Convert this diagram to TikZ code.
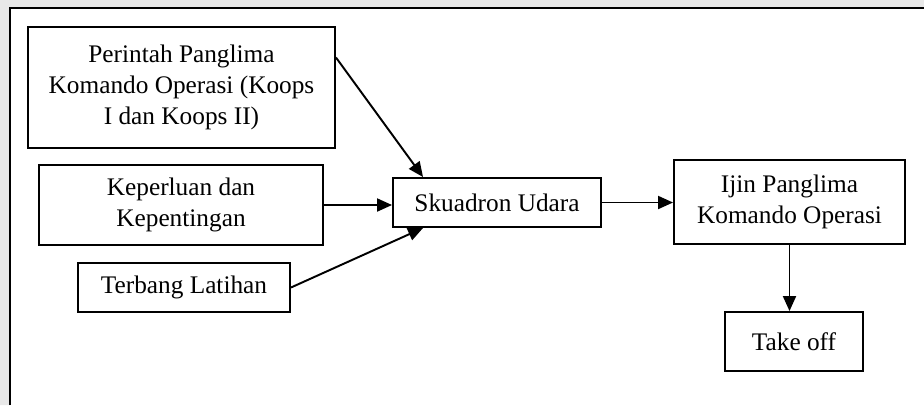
\documentclass[tikz,border=0pt]{standalone}
\usepackage{fontspec}
\setmainfont{Liberation Serif}
\usetikzlibrary{arrows.meta}
\tikzset{
  blok/.style={draw,line width=1.1pt,align=center,inner sep=2pt,
    font=\fontsize{14.4}{17.6}\selectfont},
  panah/.style={-{Triangle[length=0.3cm,width=0.26cm]},line width=1.1pt}
}
\begin{document}
\begin{tikzpicture}
\useasboundingbox (0,0) rectangle (18.48,-8.1);
\fill[gray!18] (0,0) -- (18.48,0) -- (18.48,-0.16) -- (0.2,-0.16) -- (0.2,-8.1) -- (0,-8.1) -- cycle;
\draw[line width=1.1pt] (0.2,-8.1) -- (0.2,-0.16) -- (18.48,-0.16);

\node[blok,minimum width=6.14cm,minimum height=2.42cm] (perintah) at (3.63,-1.75)
  {Perintah Panglima\\Komando Operasi (Koops\\I dan Koops II)};
\node[blok,minimum width=5.68cm,minimum height=1.6cm] (keperluan) at (3.62,-4.1)
  {Keperluan dan\\Kepentingan};
\node[blok,minimum width=4.24cm,minimum height=0.98cm] (terbang) at (3.68,-5.75)
  {Terbang Latihan};
\node[blok,minimum width=4.16cm,minimum height=0.98cm] (skuadron) at (9.94,-4.05)
  {Skuadron Udara};
\node[blok,minimum width=4.62cm,minimum height=1.68cm] (ijin) at (15.79,-4.04)
  {Ijin Panglima\\Komando Operasi};
\node[blok,minimum width=2.76cm,minimum height=1.18cm] (takeoff) at (15.88,-6.83)
  {Take off};

\draw[panah] (perintah.11) -- (skuadron.161);
\draw[panah] (keperluan.east) -- (keperluan.east -| skuadron.west);
\draw[panah] (terbang.east) -- (skuadron.199);
\draw[panah] (skuadron.east) -- (skuadron.east -| ijin.west);
\draw[panah] (ijin.south) -- (ijin.south |- takeoff.north);
\end{tikzpicture}
\end{document}
